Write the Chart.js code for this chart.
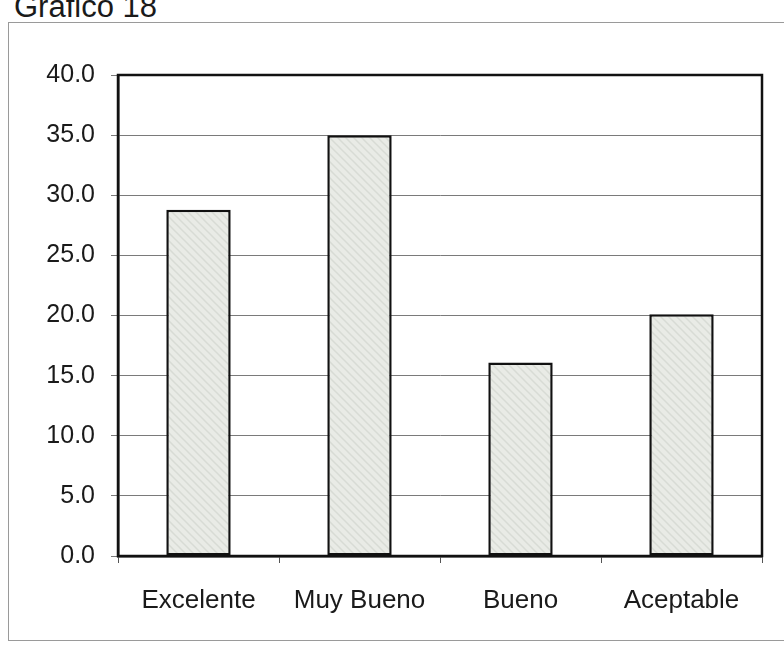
<!DOCTYPE html>
<html>
<head>
<meta charset="utf-8">
<script src="https://cdn.jsdelivr.net/npm/chart.js@4.4.1/dist/chart.umd.min.js"></script>
<style>
  html,body{margin:0;padding:0;background:#fff;}
  #wrap{position:relative;width:784px;height:645px;overflow:hidden;background:#fff;}
  #frame{position:absolute;left:8px;top:22px;width:790px;height:619px;border:1.5px solid #9a9a9a;box-sizing:border-box;}
  #title{position:absolute;left:14px;top:-8px;font-family:"Liberation Sans",Arial,sans-serif;font-size:31px;color:#1a1a1a;white-space:nowrap;line-height:30px;}
  canvas{position:absolute;left:0;top:0;}
</style>
</head>
<body>
<div id="wrap">
  <div id="frame"></div>
  <div id="title">Gráfico 18</div>
  <canvas id="c" width="784" height="645"></canvas>
</div>
<script>
const categories = ["Excelente", "Muy Bueno", "Bueno", "Aceptable"];
const values = [28.8, 35.0, 16.1, 20.1];
const yTicks = [0, 5, 10, 15, 20, 25, 30, 35, 40];

function makePattern() {
  const p = document.createElement('canvas');
  p.width = 8; p.height = 8;
  const g = p.getContext('2d');
  g.fillStyle = '#e9ebe6';
  g.fillRect(0, 0, 8, 8);
  g.strokeStyle = '#d8dbd5';
  g.lineWidth = 1.5;
  g.beginPath();
  g.moveTo(-2, -2); g.lineTo(10, 10);
  g.moveTo(-6, 2); g.lineTo(2, 10);
  g.moveTo(6, -2); g.lineTo(14, 6);
  g.stroke();
  return g.createPattern(p, 'repeat');
}

const frameBox = {
  id: 'frameBox',
  afterDatasetsDraw(chart) {
    const a = chart.chartArea, ctx = chart.ctx;
    ctx.save();
    ctx.strokeStyle = '#111';
    ctx.lineWidth = 2.5;
    ctx.strokeRect(a.left, a.top, a.right - a.left, a.bottom - a.top);
    ctx.restore();
  }
};

const FONT = '"Liberation Sans", Arial, sans-serif';

new Chart(document.getElementById('c'), {
  type: 'bar',
  data: {
    labels: categories,
    datasets: [{
      data: values,
      backgroundColor: makePattern(),
      borderColor: '#111',
      borderWidth: 2.5,
      borderSkipped: false,
      barPercentage: 0.40,
      categoryPercentage: 1.0
    }]
  },
  options: {
    responsive: false,
    animation: false,
    devicePixelRatio: 1,
    layout: { padding: { left: 0, right: 22, top: 75, bottom: 0 } },
    plugins: { legend: { display: false }, tooltip: { enabled: false }, title: { display: false } },
    scales: {
      x: {
        offset: true,
        grid: { display: true, drawOnChartArea: false, offset: true, tickLength: 7, color: '#555', lineWidth: 1 },
        border: { display: true, color: '#111', width: 2.5 },
        ticks: { color: '#1a1a1a', font: { family: FONT, size: 26 }, padding: 22, maxRotation: 0 },
        afterFit(scale) { scale.height = 89; }
      },
      y: {
        min: 0, max: 40,
        afterBuildTicks(scale) { scale.ticks = yTicks.map(v => ({ value: v })); },
        grid: { color: '#7a7a7a', lineWidth: 1, tickLength: 7 },
        border: { display: true, color: '#111', width: 2.5 },
        ticks: { color: '#1a1a1a', font: { family: FONT, size: 25 }, padding: 16,
                 callback: v => Number(v).toFixed(1) },
        afterFit(scale) { scale.width = 118; }
      }
    }
  },
  plugins: [frameBox]
});
</script>
</body>
</html>
